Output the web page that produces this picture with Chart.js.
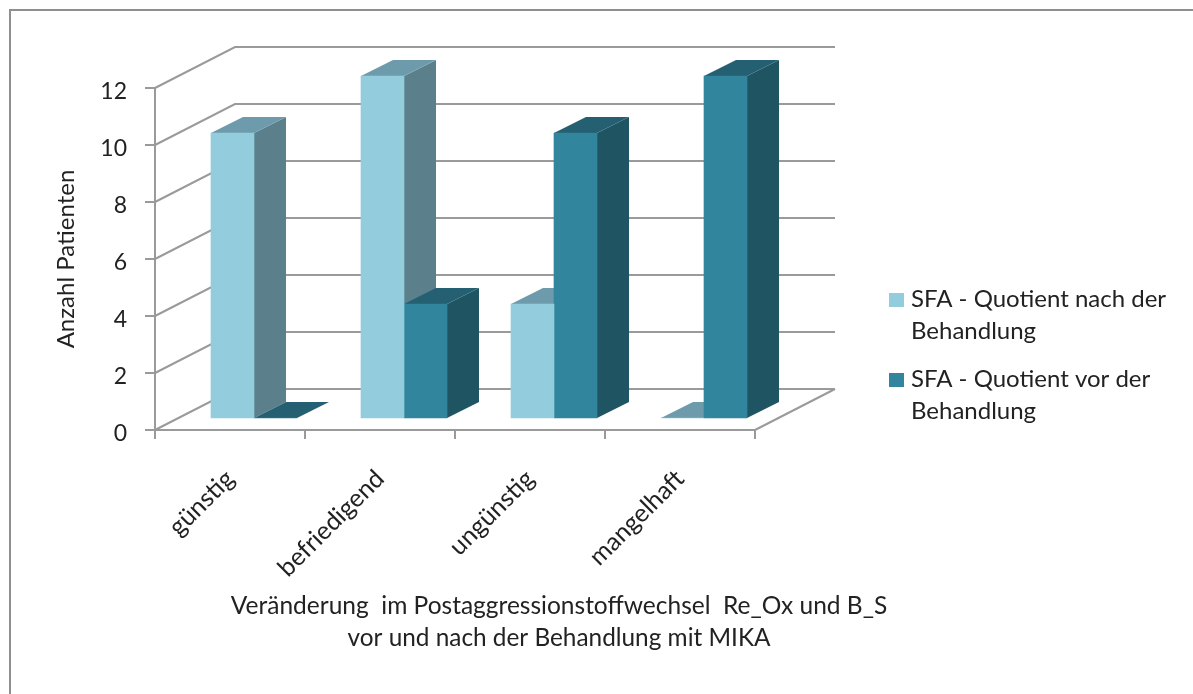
<!DOCTYPE html>
<html>
<head>
<meta charset="utf-8">
<style>
html, body { margin: 0; padding: 0; background: #fff; }
canvas { display: block; }
</style>
<script src="https://cdn.jsdelivr.net/npm/chart.js@4"></script>
</head>
<body>
<canvas id="chart" width="1193" height="694"></canvas>
<script>
let categories = ['günstig', 'befriedigend', 'ungünstig', 'mangelhaft']
let afterValues = [10, 12, 4, 0]
let beforeValues = [0, 4, 10, 12]
let seriesNames = ['SFA - Quotient nach der Behandlung', 'SFA - Quotient vor der Behandlung']
let legendLines = [['SFA - Quotient nach der', 'Behandlung'], ['SFA - Quotient vor der', 'Behandlung']]
let xTitleLines = ['Veränderung  im Postaggressionstoffwechsel  Re_Ox und B_S', 'vor und nach der Behandlung mit MIKA']
let yTitle = 'Anzahl Patienten'
let tickValues = [0, 2, 4, 6, 8, 10, 12]

let fontName = 'Lato, "Open Sans", sans-serif'
let frontColors = ['#93cddd', '#31859c']
let sideColors = ['#5c7f8c', '#1f5463']
let topColors = ['#6e9bab', '#245f72']
let gridColor = '#9a9a9a'
let textColor = '#222222'

// depth of the box the chart stands in, and of each bar, in pixels
let wallDx = 80, wallDy = 41
let barDx = 32, barDy = 16
// the bars stand a bit inside the floor, so they get their own shifted scales
let barShiftX = 24, barShiftY = 12
let pxPerCategory = 150, pxPerUnit = 28.5

function poly(ctx, color, pts) {
    ctx.fillStyle = color
    ctx.beginPath()
    ctx.moveTo(pts[0][0], pts[0][1])
    for (let i = 1; i < pts.length; i++) ctx.lineTo(pts[i][0], pts[i][1])
    ctx.closePath()
    ctx.fill()
}

let box3d = {
    id: 'box3d',
    beforeDatasetsDraw(chart) {
        let ctx = chart.ctx
        let y = chart.scales.y
        let area = chart.chartArea
        ctx.save()
        ctx.strokeStyle = gridColor
        ctx.lineWidth = 2
        // back wall lines and the diagonals on the left side wall
        tickValues.forEach(function (v) {
            let py = y.getPixelForValue(v)
            ctx.beginPath()
            ctx.moveTo(area.left, py)
            ctx.lineTo(area.left + wallDx, py - wallDy)
            ctx.lineTo(area.right + wallDx, py - wallDy)
            ctx.stroke()
        })
        // right edge of the floor
        ctx.beginPath()
        ctx.moveTo(area.right, area.bottom)
        ctx.lineTo(area.right + wallDx, area.bottom - wallDy)
        ctx.stroke()

        // side and top faces, front faces are the real bars drawn afterwards
        chart.data.datasets.forEach(function (ds, i) {
            chart.getDatasetMeta(i).data.forEach(function (bar) {
                let l = bar.x - bar.width / 2
                let r = bar.x + bar.width / 2
                poly(ctx, sideColors[i], [[r, bar.y], [r + barDx, bar.y - barDy], [r + barDx, bar.base - barDy], [r, bar.base]])
                poly(ctx, topColors[i], [[l, bar.y], [l + barDx, bar.y - barDy], [r + barDx, bar.y - barDy], [r, bar.y]])
            })
        })
        ctx.restore()
    },
    afterDraw(chart) {
        let ctx = chart.ctx
        ctx.save()
        // frame of the picture, only left and top are visible
        ctx.strokeStyle = '#8f8f8f'
        ctx.lineWidth = 2
        ctx.beginPath()
        ctx.moveTo(10, 694)
        ctx.lineTo(10, 10)
        ctx.lineTo(1193, 10)
        ctx.stroke()

        ctx.fillStyle = textColor
        ctx.textBaseline = 'alphabetic'
        ctx.textAlign = 'center'
        ctx.font = '24.5px ' + fontName
        ctx.fillText(xTitleLines[0], 559, 614, 657)
        ctx.fillText(xTitleLines[1], 559, 646, 423)

        // legend
        ctx.textAlign = 'left'
        ctx.font = '24px ' + fontName
        let legendTop = [293, 373]
        legendLines.forEach(function (lines, i) {
            ctx.fillStyle = frontColors[i]
            ctx.fillRect(889, legendTop[i], 15, 14)
            ctx.fillStyle = textColor
            ctx.fillText(lines[0], 911, legendTop[i] + 14, 258)
            ctx.fillText(lines[1], 911, legendTop[i] + 46)
        })
        ctx.restore()
    }
}

let canvas = document.querySelector('#chart')
let chart = new Chart(canvas.getContext('2d'), {
    type: 'bar',
    data: {
        labels: categories,
        datasets: [afterValues, beforeValues].map(function (values, i) {
            return {
                label: seriesNames[i],
                data: values.map(function (v, c) { return { x: c, y: v } }),
                backgroundColor: frontColors[i],
                xAxisID: 'xBars',
                yAxisID: 'yBars',
                barThickness: 43,
                clip: false
            }
        })
    },
    options: {
        responsive: false,
        animation: false,
        layout: { padding: { top: 88, right: 438, left: 0, bottom: 0 } },
        plugins: { legend: { display: false }, tooltip: { enabled: false } },
        scales: {
            x: {
                type: 'category',
                offset: true,
                grid: { offset: true, drawOnChartArea: false, color: gridColor, lineWidth: 2, tickLength: 9 },
                border: { color: gridColor, width: 2 },
                ticks: { color: textColor, font: { family: fontName, size: 25 }, minRotation: 45, maxRotation: 45, padding: 25 },
                afterFit(scale) { scale.height = 264 }
            },
            y: {
                min: 0,
                max: 12,
                grid: { drawOnChartArea: false, color: gridColor, lineWidth: 2, tickLength: 10 },
                border: { color: gridColor, width: 2 },
                ticks: { stepSize: 2, color: textColor, font: { family: fontName, size: 23 }, padding: 18, labelOffset: 4 },
                title: { display: true, text: yTitle, color: textColor, font: { family: fontName, size: 24 }, padding: { top: 52, bottom: 0 } },
                afterFit(scale) { scale.width = 155 }
            },
            xBars: {
                type: 'linear',
                display: false,
                offset: false,
                min: -0.5 - barShiftX / pxPerCategory,
                max: categories.length - 0.5 - barShiftX / pxPerCategory
            },
            yBars: {
                display: false,
                min: -barShiftY / pxPerUnit,
                max: 12 - barShiftY / pxPerUnit
            }
        }
    },
    plugins: [box3d]
})
</script>
</body>
</html>
